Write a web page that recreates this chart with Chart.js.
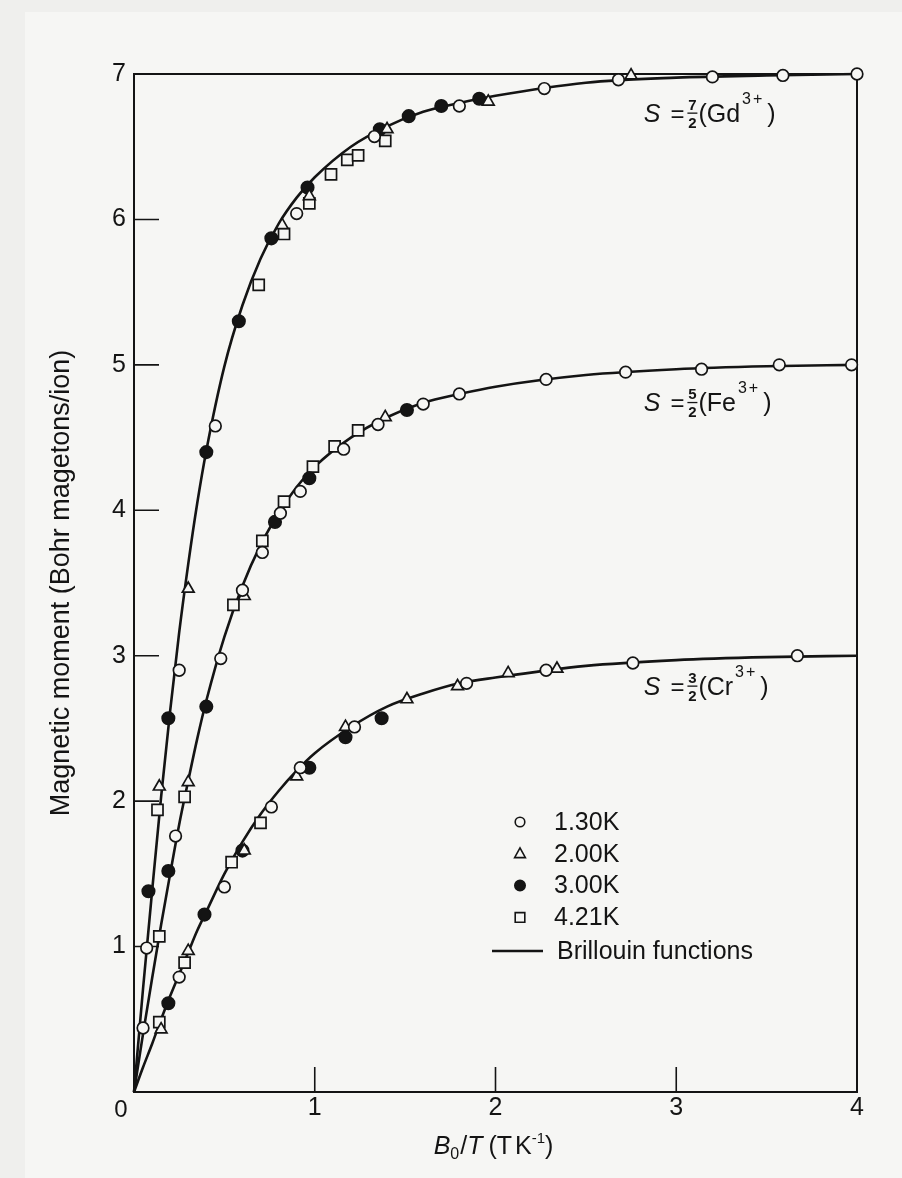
<!DOCTYPE html>
<html>
<head>
<meta charset="utf-8">
<title>Magnetic moment vs B0/T</title>
<script src="https://cdn.jsdelivr.net/npm/chart.js"></script>
<style>
  html, body { margin: 0; padding: 0; background: #f6f6f4; }
  #wrap { width: 902px; height: 1178px; }
</style>
</head>
<body>
<div id="wrap"><canvas id="moment-chart" width="902" height="1178"></canvas></div>
<script>
// Brillouin curves
const curveX  = [0, 0.05, 0.1, 0.15, 0.2, 0.25, 0.3, 0.35, 0.4, 0.5, 0.6, 0.7, 0.8, 0.9, 1.0, 1.2, 1.4, 1.6, 1.8, 2.0, 2.5, 3.0, 3.5, 4.0];
const gdCurve = [0, 0.71, 1.38, 2.03, 2.62, 3.16, 3.63, 4.05, 4.41, 4.99, 5.41, 5.73, 5.97, 6.15, 6.29, 6.50, 6.64, 6.74, 6.80, 6.85, 6.94, 6.975, 6.99, 7.0];
const feCurve = [0, 0.40, 0.78, 1.15, 1.50, 1.84, 2.14, 2.43, 2.69, 3.13, 3.48, 3.76, 3.98, 4.16, 4.30, 4.50, 4.64, 4.74, 4.80, 4.85, 4.93, 4.97, 4.99, 5.0];
const crCurve = [0, 0.17, 0.33, 0.50, 0.66, 0.81, 0.96, 1.11, 1.24, 1.50, 1.72, 1.91, 2.07, 2.21, 2.33, 2.51, 2.65, 2.74, 2.81, 2.85, 2.93, 2.97, 2.99, 3.0];

// measured points (Gd, then Fe, then Cr) for each temperature
const k130X = [0.07, 0.25, 0.45, 0.90, 1.33, 1.80, 2.27, 2.68, 3.20, 3.59, 4.00,
               0.05, 0.23, 0.48, 0.60, 0.71, 0.81, 0.92, 1.16, 1.35, 1.60, 1.80, 2.28, 2.72, 3.14, 3.57, 3.97,
               0.25, 0.50, 0.76, 0.92, 1.22, 1.84, 2.28, 2.76, 3.67];
const k130Y = [0.99, 2.90, 4.58, 6.04, 6.57, 6.78, 6.90, 6.96, 6.98, 6.99, 7.00,
               0.44, 1.76, 2.98, 3.45, 3.71, 3.98, 4.13, 4.42, 4.59, 4.73, 4.80, 4.90, 4.95, 4.97, 5.00, 5.00,
               0.79, 1.41, 1.96, 2.23, 2.51, 2.81, 2.90, 2.95, 3.00];

const k200X = [0.14, 0.30, 0.82, 0.97, 1.40, 1.96, 2.75,
               0.30, 0.61, 1.39,
               0.15, 0.30, 0.61, 0.90, 1.17, 1.51, 1.79, 2.07, 2.34];
const k200Y = [2.10, 3.46, 5.96, 6.16, 6.62, 6.81, 6.99,
               2.13, 3.41, 4.64,
               0.43, 0.97, 1.66, 2.17, 2.51, 2.70, 2.79, 2.88, 2.91];

const k300X = [0.08, 0.19, 0.40, 0.58, 0.76, 0.96, 1.36, 1.52, 1.70, 1.91,
               0.19, 0.40, 0.78, 0.97, 1.51,
               0.19, 0.39, 0.60, 0.97, 1.17, 1.37];
const k300Y = [1.38, 2.57, 4.40, 5.30, 5.87, 6.22, 6.62, 6.71, 6.78, 6.83,
               1.52, 2.65, 3.92, 4.22, 4.69,
               0.61, 1.22, 1.66, 2.23, 2.44, 2.57];

const k421X = [0.13, 0.69, 0.83, 0.97, 1.09, 1.18, 1.24, 1.39,
               0.14, 0.28, 0.55, 0.71, 0.83, 0.99, 1.11, 1.24,
               0.14, 0.28, 0.54, 0.70];
const k421Y = [1.94, 5.55, 5.90, 6.11, 6.31, 6.41, 6.44, 6.54,
               1.07, 2.03, 3.35, 3.79, 4.06, 4.30, 4.44, 4.55,
               0.48, 0.89, 1.58, 1.85];

const tempLabels = ['1.30K', '2.00K', '3.00K', '4.21K'];
const curveLabel = 'Brillouin functions';
const ionNames = ['Gd', 'Fe', 'Cr'];
const spinNumerators = ['7', '5', '3'];
const xTickValues = [0, 1, 2, 3, 4];
const yTickValues = [0, 1, 2, 3, 4, 5, 6, 7];

const ink = '#141414';
const paper = '#f6f6f4';
const fam = "'Liberation Sans', Arial, Helvetica, sans-serif";
Chart.defaults.font.family = fam;
Chart.defaults.color = ink;

function pts(xs, ys) { return xs.map((x, i) => ({ x: x, y: ys[i] })); }

function curveSet(ys) {
  return {
    label: curveLabel, data: pts(curveX, ys), showLine: true,
    borderColor: ink, borderWidth: 2.6, pointRadius: 0,
    cubicInterpolationMode: 'monotone', order: 2, clip: false
  };
}

function markerSet(i, xs, ys, style, r, fill) {
  return {
    label: tempLabels[i], data: pts(xs, ys), showLine: false,
    pointStyle: style, pointRadius: r, pointBackgroundColor: fill,
    pointBorderColor: ink, pointBorderWidth: 1.7, order: 1, clip: false
  };
}

// small marker drawer for the legend
function legendMark(ctx, style, x, y, r, fill) {
  ctx.beginPath();
  if (style === 'circle') ctx.arc(x, y, r, 0, Math.PI * 2);
  else if (style === 'rect') ctx.rect(x - r, y - r, 2 * r, 2 * r);
  else {
    ctx.moveTo(x, y - r * 1.1);
    ctx.lineTo(x + r, y + r * 0.7);
    ctx.lineTo(x - r, y + r * 0.7);
    ctx.closePath();
  }
  ctx.fillStyle = fill;
  ctx.fill();
  ctx.lineWidth = 1.6;
  ctx.strokeStyle = ink;
  ctx.stroke();
}

const paperPlugin = {
  id: 'paper',
  beforeDraw(chart) {
    const { ctx, width, height } = chart;
    ctx.save();
    ctx.fillStyle = paper;
    ctx.fillRect(0, 0, width, height);
    ctx.fillStyle = '#efefed';
    ctx.fillRect(0, 0, 25, height);
    ctx.fillRect(0, 0, width, 12);
    ctx.restore();
  }
};

const framePlugin = {
  id: 'frame',
  beforeDatasetsDraw(chart) {
    const { ctx, chartArea: a, scales: { x, y } } = chart;
    ctx.save();
    ctx.strokeStyle = ink;
    ctx.lineWidth = 2;
    ctx.beginPath();
    ctx.moveTo(a.left, a.top);
    ctx.lineTo(a.right, a.top);
    ctx.lineTo(a.right, a.bottom);
    ctx.stroke();
    // inward ticks
    ctx.lineWidth = 1.6;
    ctx.beginPath();
    yTickValues.forEach(v => {
      if (v > 0 && v < 7) {
        const py = y.getPixelForValue(v);
        ctx.moveTo(a.left, py);
        ctx.lineTo(a.left + 25, py);
      }
    });
    xTickValues.forEach(v => {
      if (v > 0 && v < 4) {
        const px = x.getPixelForValue(v);
        ctx.moveTo(px, a.bottom);
        ctx.lineTo(px, a.bottom - 25);
      }
    });
    ctx.stroke();
    // shared origin label
    ctx.fillStyle = ink;
    ctx.font = '24px ' + fam;
    ctx.textAlign = 'center';
    ctx.textBaseline = 'middle';
    ctx.fillText('0', a.left - 13, a.bottom + 18);
    ctx.restore();
  }
};

function drawIonLabel(ctx, px, py, num, ion) {
  let cx = px;
  ctx.textAlign = 'left';
  ctx.textBaseline = 'alphabetic';
  ctx.font = 'italic 25px ' + fam;
  ctx.fillText('S', cx, py);
  cx += ctx.measureText('S').width + 10;
  ctx.font = '24px ' + fam;
  ctx.fillText('=', cx, py);
  cx += ctx.measureText('=').width + 3;
  ctx.font = 'bold 15px ' + fam;
  ctx.textAlign = 'center';
  ctx.fillText(num, cx + 5, py - 12);
  ctx.fillText('2', cx + 5, py + 6);
  ctx.fillRect(cx, py - 9.5, 10, 1.3);
  cx += 11;
  ctx.textAlign = 'left';
  ctx.font = '25px ' + fam;
  ctx.fillText('(' + ion, cx, py);
  cx += ctx.measureText('(' + ion).width + 2;
  ctx.font = '16px ' + fam;
  ctx.fillText('3', cx, py - 18);
  cx += ctx.measureText('3').width + 2;
  ctx.fillText('+', cx, py - 18);
  cx += ctx.measureText('+').width + 5;
  ctx.font = '25px ' + fam;
  ctx.fillText(')', cx, py);
}

function drawRuns(ctx, parts, centerX, baseY) {
  let w = 0;
  parts.forEach(p => {
    ctx.font = (p.italic ? 'italic ' : '') + p.size + 'px ' + fam;
    p.w = ctx.measureText(p.t).width + (p.gap || 0);
    w += p.w;
  });
  let cx = centerX - w / 2;
  ctx.textAlign = 'left';
  ctx.textBaseline = 'alphabetic';
  parts.forEach(p => {
    ctx.font = (p.italic ? 'italic ' : '') + p.size + 'px ' + fam;
    ctx.fillText(p.t, cx, baseY + (p.dy || 0));
    cx += p.w;
  });
}

const textPlugin = {
  id: 'texts',
  afterDatasetsDraw(chart) {
    const { ctx, chartArea: a, scales: { x, y } } = chart;
    ctx.save();
    ctx.fillStyle = ink;

    // ion labels
    const anchors = [[2.82, 6.67], [2.82, 4.68], [2.82, 2.73]];
    ionNames.forEach((ion, i) => {
      drawIonLabel(ctx, x.getPixelForValue(anchors[i][0]), y.getPixelForValue(anchors[i][1]), spinNumerators[i], ion);
    });

    // legend
    const styles = [['circle', 4.8, paper], ['triangle', 5.4, paper], ['circle', 5.2, ink], ['rect', 4.8, paper]];
    const mx = a.left + 386;
    tempLabels.forEach((lab, i) => {
      const ry = a.top + 748 + i * 31.8;
      legendMark(ctx, styles[i][0], mx, ry, styles[i][1], styles[i][2]);
      ctx.fillStyle = ink;
      ctx.font = '25px ' + fam;
      ctx.textAlign = 'left';
      ctx.textBaseline = 'middle';
      ctx.fillText(lab, a.left + 420, ry + 1);
    });
    const ly = a.top + 877;
    ctx.strokeStyle = ink;
    ctx.lineWidth = 2.6;
    ctx.beginPath();
    ctx.moveTo(a.left + 358, ly);
    ctx.lineTo(a.left + 409, ly);
    ctx.stroke();
    ctx.fillText(curveLabel, a.left + 423, ly + 1);

    // x axis title
    drawRuns(ctx, [
      { t: 'B', size: 25, italic: true },
      { t: '0', size: 16, dy: 5, gap: 1 },
      { t: '/', size: 25 },
      { t: 'T', size: 25, italic: true, gap: 6 },
      { t: '(T', size: 25, gap: 3 },
      { t: 'K', size: 25 },
      { t: '-1', size: 15, dy: -11 },
      { t: ')', size: 25 }
    ], (a.left + a.right) / 2 - 2, a.bottom + 62);
    ctx.restore();
  }
};

const ctx = document.getElementById('moment-chart').getContext('2d');
const momentChart = new Chart(ctx, {
  type: 'scatter',
  data: {
    datasets: [
      markerSet(0, k130X, k130Y, 'circle', 5.8, paper),
      markerSet(1, k200X, k200Y, 'triangle', 6.8, paper),
      markerSet(2, k300X, k300Y, 'circle', 6.2, ink),
      markerSet(3, k421X, k421Y, 'rect', 7.8, paper),
      curveSet(gdCurve),
      curveSet(feCurve),
      curveSet(crCurve)
    ]
  },
  options: {
    responsive: false,
    animation: false,
    events: [],
    layout: { padding: { left: 0, top: 74, right: 45, bottom: 0 } },
    plugins: { legend: { display: false }, tooltip: { enabled: false } },
    scales: {
      x: {
        type: 'linear', min: 0, max: 4,
        afterFit: s => { s.height = 86; },
        afterBuildTicks: s => { s.ticks = xTickValues.map(v => ({ value: v })); },
        grid: { display: false, drawTicks: false },
        border: { display: true, color: ink, width: 2 },
        ticks: { padding: 1, font: { size: 25 }, color: ink, callback: v => v === 0 ? '' : v }
      },
      y: {
        type: 'linear', min: 0, max: 7,
        afterFit: s => { s.width = 134; },
        afterBuildTicks: s => { s.ticks = yTickValues.map(v => ({ value: v })); },
        grid: { display: false, drawTicks: false },
        border: { display: true, color: ink, width: 2 },
        ticks: { padding: 8, font: { size: 25 }, color: ink, callback: v => v === 0 ? '' : v },
        title: {
          display: true, text: 'Magnetic moment (Bohr magetons/ion)',
          font: { size: 27 }, color: ink, padding: { top: 45, bottom: 0 }
        }
      }
    }
  },
  plugins: [paperPlugin, framePlugin, textPlugin]
});
</script>
</body>
</html>
